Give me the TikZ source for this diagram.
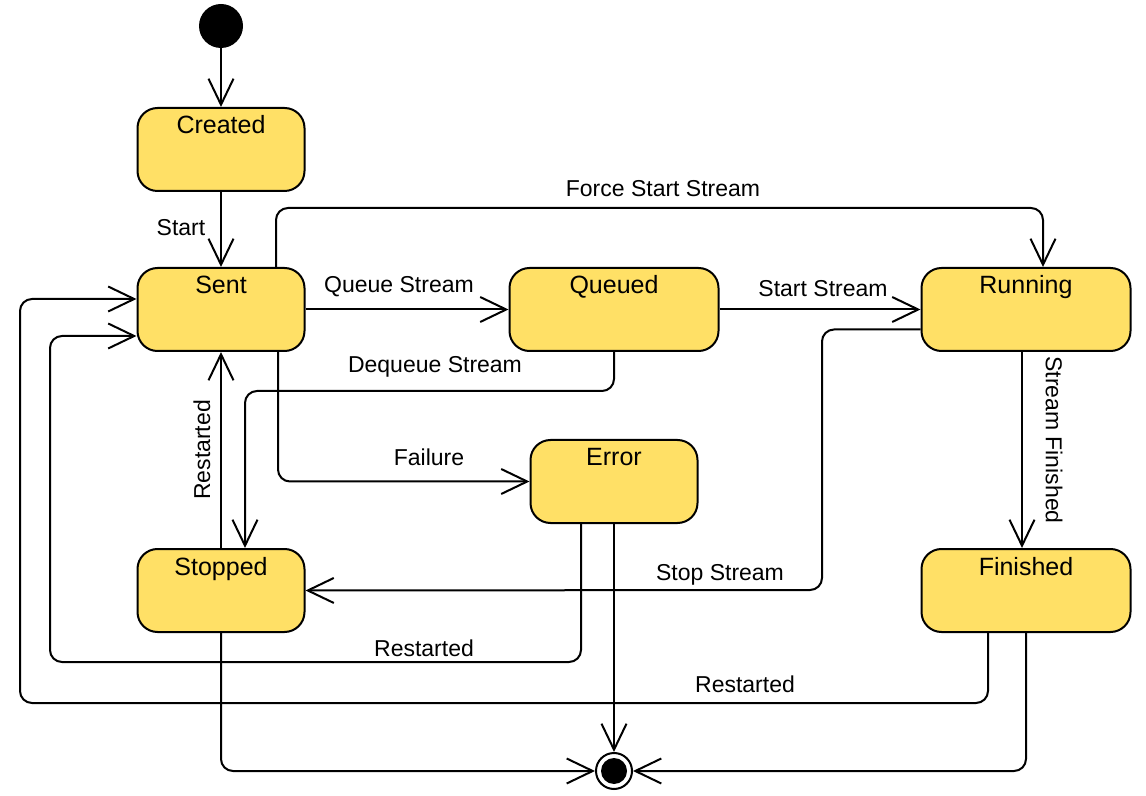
\documentclass[tikz,border=0pt]{standalone}
\usepackage{fontspec}
\setmainfont{Liberation Sans}
\usetikzlibrary{arrows.meta}
\definecolor{statefill}{RGB}{255,224,102}

\begin{document}
\begin{tikzpicture}[
  x=0.5pt, y=-0.5pt,
  state/.style={draw, line width=1pt, fill=statefill, rounded corners=10pt,
    minimum width=83.5pt, inner ysep=0pt, text height=13pt, text depth=28.5pt,
    font=\fontsize{12.5}{15}\selectfont},
  wide/.style={state, minimum width=104.5pt},
  startdot/.style={circle, fill=black, minimum size=22pt, inner sep=0pt},
  enddot/.style={circle, draw, line width=1pt, fill=white, minimum size=18pt, inner sep=0pt,
    path picture={\fill[black] (path picture bounding box.center) circle (6.5pt);}},
  trans/.style={line width=1pt, rounded corners=6pt, -{Straight Barb[length=13pt, width=12.5pt]}},
  lbl/.style={font=\fontsize{11.5}{14}\selectfont, inner sep=1pt}
]
\useasboundingbox (0,0) rectangle (1146,796);

% states
\node [startdot] (init) at (221,26) {};
\node [state] (created) at (221,149.5) {Created};
\node [state] (sent) at (221,309.5) {Sent};
\node [wide] (queued) at (614,309.5) {Queued};
\node [wide] (running) at (1026,309.5) {Running};
\node [state] (error) at (614,481.5) {Error};
\node [state] (stopped) at (221,590.5) {Stopped};
\node [wide] (finished) at (1026,590.5) {Finished};
\node [enddot] (end) at (614,771) {};

% transitions
\draw [trans] (init) -- (created);
\draw [trans] (created) -- (sent);
\draw [trans] (sent) -- (queued);
\draw [trans] (queued) -- (running);
\draw [trans] ([xshift=27.5pt]sent.north) -- ++(0,-59) -| ([xshift=8.5pt]running.north);
\draw [trans] (queued.south) -- ++(0,39) -| ([xshift=12pt]stopped.north);
\draw [trans] ([xshift=28.5pt]sent.south) |- (error);
\draw [trans] (stopped) -- (sent);
\draw [trans] ([yshift=-10pt]running.west) -| (822,590) -- (stopped.east);
\draw [trans] ([xshift=-2pt]running.south) -- ([xshift=-2pt]finished.north);
\draw [trans] ([xshift=-16.5pt]error.south) |- (50,662) |- ([yshift=-13.25pt]sent.west);
\draw [trans] ([xshift=-19pt]finished.south) |- (20,703) |- ([yshift=5.25pt]sent.west);
\draw [trans] (stopped) |- (end);
\draw [trans] (error) -- (end);
\draw [trans] (finished) |- (end);

% labels
\node [lbl] (l-start) at (181,228) {Start};
\node [lbl] (l-queue) at (399,287) {Queue Stream};
\node [lbl] (l-run) at (823,289) {Start Stream};
\node [lbl] (l-force) at (663,189) {Force Start Stream};
\node [lbl] (l-dequeue) at (435,367) {Dequeue Stream};
\node [lbl] (l-fail) at (429,457) {Failure};
\node [lbl, rotate=90] (l-stopped) at (202,450) {Restarted};
\node [lbl] (l-stop) at (720,575) {Stop Stream};
\node [lbl, rotate=-90] (l-finish) at (1054,440) {Stream Finished};
\node [lbl] (l-error) at (424,648) {Restarted};
\node [lbl] (l-done) at (745,684) {Restarted};
\end{tikzpicture}
\end{document}
